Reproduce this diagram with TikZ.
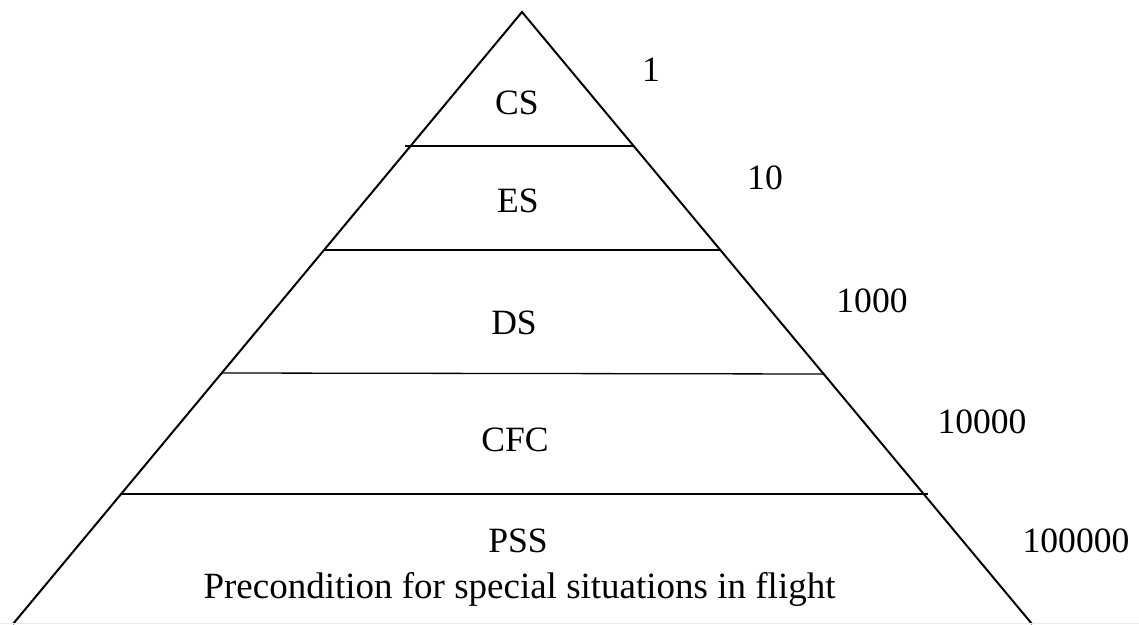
\documentclass[tikz,border=0pt]{standalone}
\usepackage{fontspec}
\setmainfont{Liberation Serif}

\begin{document}
\begin{tikzpicture}[x = 0.5pt, y = -0.5pt, font=\fontsize{17.8}{21}\selectfont]
	\tikzstyle{sideStyle} = [line width = 1pt, line join = miter]
	\tikzstyle{layerStyle} = [line width = 0.65pt]
	\tikzstyle{levelStyle} = [anchor = base, inner sep = 0pt]
	\tikzstyle{countStyle} = [anchor = base, inner sep = 0pt]
	\useasboundingbox (0,0) rectangle (1139,625);
	% pyramid corners
	\coordinate (top) at (522, 12);
	\coordinate (bl) at (13, 624);
	\coordinate (br) at (1032, 624);
	\draw[sideStyle] (bl) -- (top) -- (br);
	% layer borders
	\coordinate (l1) at (405, 146);
	\coordinate (r1) at (633, 146);
	\coordinate (l2) at (325, 250);
	\coordinate (r2) at (720, 250);
	\coordinate (l3) at (222, 373);
	\coordinate (r3) at (823, 374);
	\coordinate (l4) at (122, 494);
	\coordinate (r4) at (928, 494);
	\draw[layerStyle] (l1) -- (r1);
	\draw[layerStyle] (l2) -- (r2);
	\draw[layerStyle] (l3) -- (r3);
	\draw[layerStyle] (l4) -- (r4);
	\coordinate (fl) at (0, 623.5);
	\coordinate (fr) at (1139, 623.5);
	\draw[black!8, line width = 0.5pt] (fl) -- (fr);
	% levels
	\node[levelStyle] (cs) at (517, 115) {CS};
	\node[levelStyle] (es) at (518, 213) {ES};
	\node[levelStyle] (ds) at (514, 335) {DS};
	\node[levelStyle] (cfc) at (515, 451) {CFC};
	\node[levelStyle] (pss) at (518, 552) {PSS};
	\node[levelStyle, font=\fontsize{18.5}{22}\selectfont] (pssText) at (519.5, 598) {Precondition for special situations in flight};
	% counts
	\node[countStyle] (n1) at (651, 82) {1};
	\node[countStyle] (n10) at (765, 190) {10};
	\node[countStyle] (n1000) at (872, 313) {1000};
	\node[countStyle] (n10000) at (982, 433) {10000};
	\node[countStyle] (n100000) at (1076, 552) {100000};
\end{tikzpicture}
\end{document}
